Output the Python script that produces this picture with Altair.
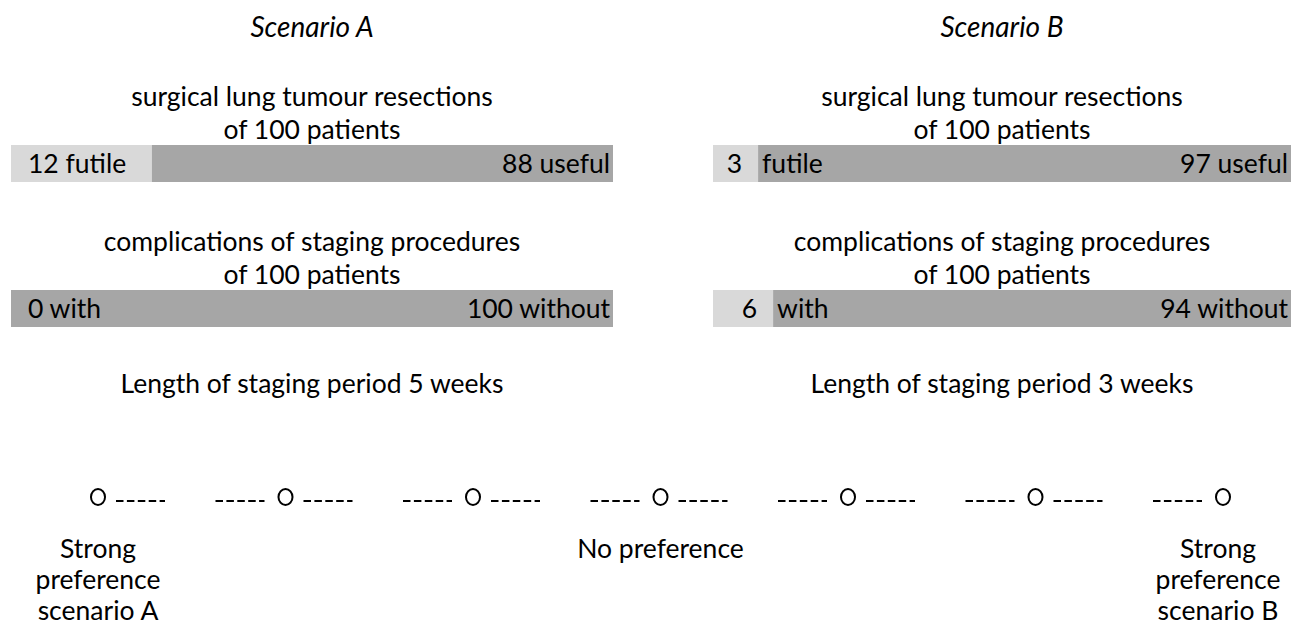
import altair as alt
import pandas as pd

# ---------------- data ----------------
scenarios = ["Scenario A", "Scenario B"]
resect_futile = [12, 3]
resect_useful = [88, 97]
# share of the bar length drawn in light grey (as drawn in the figure)
resect_split_drawn = [23.4, 7.8]
compl_with = [0, 6]
compl_without = [100, 94]
compl_split_drawn = [0.0, 10.4]
staging_weeks = [5, 3]
label_style = ["joined", "split"]

pref_levels = [1, 2, 3, 4, 5, 6, 7]
pref_label_levels = [1, 4, 7]
pref_label_texts = ["Strong\npreference\nscenario A", "No preference",
                    "Strong\npreference\nscenario B"]

# ---------------- styling / layout ----------------
FONT = "Lato"
FS = 26.5
FS_TITLE = 28
LIGHT = "#d9d9d9"
DARK = "#a6a6a6"
LH = 33
LH_B = 31

PANEL_W = [602, 578]
GAP = 100
H_TOP = 420
H_BOT = 192

TITLE_Y = 29
HEAD1_Y = 97.5
BAR1 = (137, 174)
LAB1_Y = 165
HEAD2_Y = 242.5
BAR2 = (282, 319)
LAB2_Y = 310
LEN_Y = 385

CIRCLE_Y = 69
DASH_Y = 73
PLAB_Y = 129.5

RING = "M0,-1 A0.87,1 0 1,1 0,1 A0.87,1 0 1,1 0,-1 Z"


def text_mark(**kw):
    base = dict(font=FONT, fontSize=FS, color="black", baseline="alphabetic",
                lineBreak="\n", lineHeight=LH)
    base.update(kw)
    return alt.Chart().mark_text(**base)


def top_panel(i):
    xs = alt.Scale(domain=[0, 100], nice=False, zero=False)
    ys = alt.Scale(domain=[0, H_TOP], reverse=True, nice=False, zero=False)

    segs = []
    for split, (y0, y1) in [(resect_split_drawn[i], BAR1), (compl_split_drawn[i], BAR2)]:
        segs.append({"x0": 0, "x1": split, "seg": "light", "y0": y0, "y1": y1})
        segs.append({"x0": split, "x1": 100, "seg": "dark", "y0": y0, "y1": y1})
    bars = alt.Chart(pd.DataFrame(segs)).mark_rect().encode(
        x=alt.X("x0:Q", scale=xs, axis=None),
        x2="x1:Q",
        y=alt.Y("y0:Q", scale=ys, axis=None),
        y2="y1:Q",
        color=alt.Color("seg:N", scale=alt.Scale(domain=["light", "dark"], range=[LIGHT, DARK]),
                        legend=None),
    )

    def enc(ch):
        return ch.encode(
            x=alt.X("x:Q", scale=xs, axis=None),
            y=alt.Y("y:Q", scale=ys, axis=None),
            text=alt.Text("t:N"),
        )

    title = enc(text_mark(align="center", fontStyle="italic", fontSize=FS_TITLE).properties(
        data=pd.DataFrame([{"x": 50, "y": TITLE_Y, "t": scenarios[i]}])))
    heads = enc(text_mark(align="center").properties(data=pd.DataFrame([
        {"x": 50, "y": HEAD1_Y, "t": "surgical lung tumour resections\nof 100 patients"},
        {"x": 50, "y": HEAD2_Y, "t": "complications of staging procedures\nof 100 patients"},
        {"x": 50, "y": LEN_Y, "t": f"Length of staging period {staging_weeks[i]} weeks"},
    ])))
    rights = enc(text_mark(align="right", dx=-3).properties(data=pd.DataFrame([
        {"x": 100, "y": LAB1_Y, "t": f"{resect_useful[i]} useful"},
        {"x": 100, "y": LAB2_Y, "t": f"{compl_without[i]} without"},
    ])))
    layers = [bars, title, heads, rights]
    if label_style[i] == "joined":
        lefts = enc(text_mark(align="left", dx=17).properties(data=pd.DataFrame([
            {"x": 0, "y": LAB1_Y, "t": f"{resect_futile[i]} futile"},
            {"x": 0, "y": LAB2_Y, "t": f"{compl_with[i]} with"},
        ])))
        layers.append(lefts)
    else:
        words = enc(text_mark(align="left", dx=4).properties(data=pd.DataFrame([
            {"x": resect_split_drawn[i], "y": LAB1_Y, "t": "futile"},
            {"x": compl_split_drawn[i], "y": LAB2_Y, "t": "with"},
        ])))
        nums = enc(text_mark(align="right", dx=-16).properties(data=pd.DataFrame([
            {"x": resect_split_drawn[i], "y": LAB1_Y, "t": str(resect_futile[i])},
            {"x": compl_split_drawn[i], "y": LAB2_Y, "t": str(compl_with[i])},
        ])))
        layers += [words, nums]
    return alt.layer(*layers).properties(width=PANEL_W[i], height=H_TOP)


def bottom_panel():
    xs = alt.Scale(domain=[1, 7], range=[87, 1212], nice=False, zero=False)
    ys = alt.Scale(domain=[0, H_BOT], reverse=True, nice=False, zero=False)
    lv = pd.DataFrame({"level": pref_levels, "cy": CIRCLE_Y, "dy": DASH_Y})
    X = alt.X("level:Q", scale=xs, axis=None)

    circles = alt.Chart(lv).mark_point(shape=RING, size=260, filled=False, stroke="black",
                                       strokeWidth=2, opacity=1).encode(
        x=X, y=alt.Y("cy:Q", scale=ys, axis=None))
    left_d = alt.Chart(lv[lv.level > 1]).mark_rule(
        xOffset=-70, x2Offset=-21, strokeDash=[7.5, 3.4], strokeWidth=2, color="black").encode(
        x=X, x2="level:Q", y=alt.Y("dy:Q", scale=ys, axis=None))
    right_d = alt.Chart(lv[lv.level < 7]).mark_rule(
        xOffset=18, x2Offset=67, strokeDash=[7.5, 3.4], strokeWidth=2, color="black").encode(
        x=X, x2="level:Q", y=alt.Y("dy:Q", scale=ys, axis=None))

    def lab_layer(levels, texts, dx):
        return alt.Chart(pd.DataFrame({"level": levels, "t": texts, "y": PLAB_Y})).mark_text(
            font=FONT, fontSize=FS, color="black", align="center", baseline="alphabetic",
            lineBreak="\n", lineHeight=LH_B, dx=dx).encode(
            x=X, y=alt.Y("y:Q", scale=ys, axis=None), text="t:N")

    labs_a = lab_layer(pref_label_levels[:2], pref_label_texts[:2], 0)
    labs_b = lab_layer(pref_label_levels[2:], pref_label_texts[2:], -5)
    return alt.layer(circles, left_d, right_d, labs_a, labs_b).properties(
        width=1280, height=H_BOT)


top = alt.hconcat(top_panel(0), top_panel(1), spacing=GAP, bounds="flush").resolve_scale(
    x="independent", y="independent")
chart = alt.vconcat(top, bottom_panel(), spacing=0).properties(
    padding={"left": 3, "top": 0, "right": 0, "bottom": 0}
).configure_view(strokeWidth=0)

chart.save("out.html", embed_options={"renderer": "svg", "actions": False})
